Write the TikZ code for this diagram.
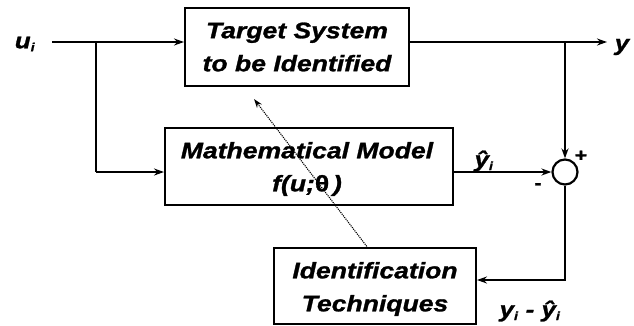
\documentclass[tikz,border=0pt]{standalone}
\usepackage{fontspec}
\newfontfamily\lab[FakeStretch=1.18,FakeBold=1.2]{Liberation Sans}
\usetikzlibrary{arrows.meta}
\begin{document}
\begin{tikzpicture}[x=1pt,y=-1pt,
  line width=2.2pt,
  box/.style={draw,line width=2pt,inner sep=0pt},
  txt/.style={font=\lab\bfseries\itshape\fontsize{22.5}{33}\selectfont,align=center},
  sym/.style={font=\lab\bfseries\itshape\fontsize{22}{26}\selectfont,inner sep=0pt},
  arr/.style={-{Stealth[length=10pt,width=7pt]}}]
\useasboundingbox (0,0) rectangle (634,325);
% boxes
\node[box,minimum width=224pt,minimum height=78pt] (tgt) at (297,47) {};
\node[txt] at (297,47) {Target System\\to be Identified};
\node[box,minimum width=288pt,minimum height=77pt] (mdl) at (309,166.5) {};
\node[box,minimum width=202pt,minimum height=76pt] (idt) at (375,286) {};
\node[txt] at (375,289) {Identification\\Techniques};
% dotted arrow
\coordinate (dstart) at (368,248);
\coordinate (dend) at (254,99);
\draw[densely dotted,line width=1.1pt,-{Stealth[length=9pt,width=6pt]}] (dstart) -- (dend);
\node[txt] at (307,169) {Mathematical Model\\f(u;{\upshape θ}\,)};
% sum junction
\node[draw,circle,line width=2.2pt,minimum size=25pt,inner sep=0pt] (sum) at (565,172) {};
% signals
\node[sym] (u) at (25,44) {u\textsubscript{\fontsize{12}{12}\selectfont i}};
\coordinate (ustart) at (52,42);
\coordinate (j1) at (96,42);
\coordinate (j1b) at (96,172);
\draw[arr] (ustart) -- (tgt.west |- ustart);
\draw (j1) -- (j1b);
\draw[arr] (j1b) -- (mdl.west |- j1b);
\coordinate (yend) at (607,42);
\coordinate (j2) at (565,42);
\draw[arr] (tgt.east |- yend) -- (yend);
\node[sym] (y) at (622,47) {y};
\draw[arr] (j2) -- (sum.north);
\draw[arr] (mdl.east |- sum) -- (sum.west);
\node[sym] (yh) at (484,161) {ŷ\textsubscript{\fontsize{12}{12}\selectfont i}};
\node[sym,font=\lab\bfseries\fontsize{18}{18}\selectfont] (plus) at (581,156) {+};
\node[sym,font=\lab\bfseries\fontsize{18}{18}\selectfont] (minus) at (538,186) {-};
\coordinate (corner) at (565,280);
\draw[arr] (sum.south) -- (corner) -- (idt.east |- corner);
\node[sym] (err) at (530,311) {y\textsubscript{\fontsize{12}{12}\selectfont i} - ŷ\textsubscript{\fontsize{12}{12}\selectfont i}};
\end{tikzpicture}
\end{document}
